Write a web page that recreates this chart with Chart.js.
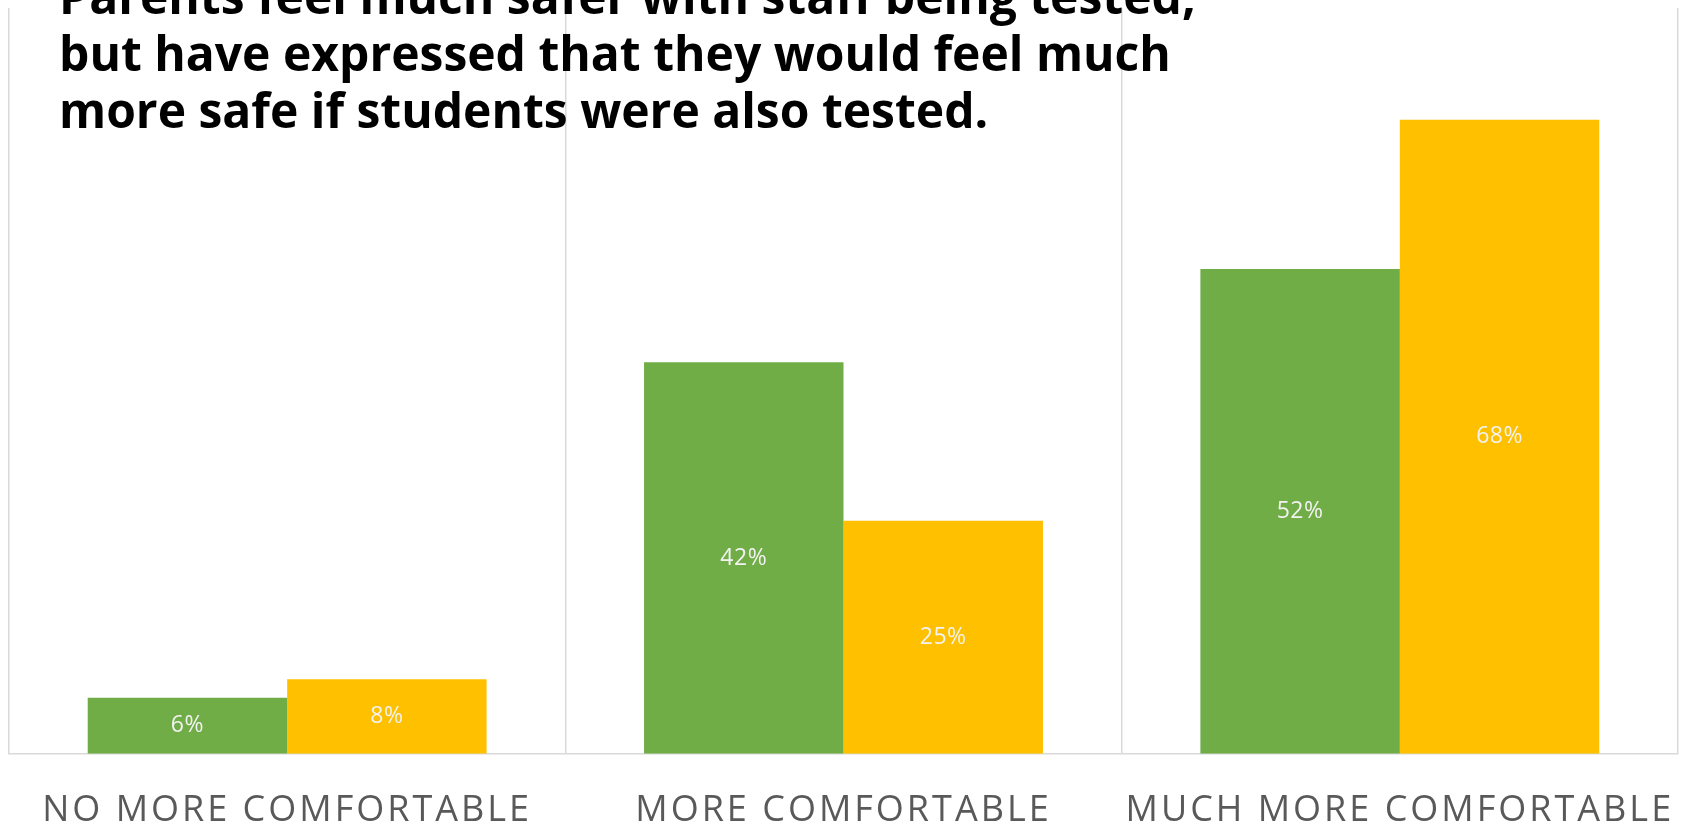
<!DOCTYPE html>
<html>
<head>
<meta charset="utf-8">
<script src="https://cdn.jsdelivr.net/npm/chart.js@4.4.1/dist/chart.umd.min.js"></script>
<style>
  body { margin: 0; background: #fff; }
  #wrap { position: relative; width: 1687px; height: 826px; overflow: hidden; }
  #title {
    position: absolute; left: 59px; top: -33px; z-index: 2;
    font-family: "Open Sans", sans-serif; font-weight: 700;
    font-size: 48px; line-height: 57px; color: #000; white-space: nowrap;
  }
</style>
</head>
<body>
<div id="wrap">
  <div id="title">Parents feel much safer with staff being tested,<br>but have expressed that they would feel much<br>more safe if students were also tested.</div>
  <canvas id="myChart"></canvas>
</div>
<script>
var categories = ["NO MORE COMFORTABLE", "MORE COMFORTABLE", "MUCH MORE COMFORTABLE"];
var staffTested = [6, 42, 52];
var studentsTested = [8, 25, 68];

// wide letter spacing for the category labels
var spacedText = {
  id: "spacedText",
  beforeDraw: function(chart) {
    chart.ctx.letterSpacing = "3px";
  }
};

// write the % values in the middle of each bar
var barLabels = {
  id: "barLabels",
  afterDatasetsDraw: function(chart) {
    var ctx = chart.ctx;
    ctx.save();
    ctx.letterSpacing = "0.5px";
    ctx.font = "23px 'Open Sans'";
    ctx.fillStyle = "#f2f2f2";
    ctx.textAlign = "center";
    ctx.textBaseline = "middle";
    chart.data.datasets.forEach(function(ds, i) {
      chart.getDatasetMeta(i).data.forEach(function(bar, j) {
        ctx.fillText(ds.data[j] + "%", bar.x, (bar.y + bar.base) / 2);
      });
    });
    ctx.restore();
  }
};

new Chart("myChart", {
  type: "bar",
  data: {
    labels: categories,
    datasets: [{
      label: "Staff tested",
      backgroundColor: "#70ad47",
      data: staffTested
    }, {
      label: "Students tested",
      backgroundColor: "#ffc000",
      data: studentsTested
    }]
  },
  options: {
    responsive: true,
    maintainAspectRatio: false,
    animation: false,
    layout: { padding: { left: 9, right: 9, top: 8, bottom: -41 } },
    plugins: {
      legend: { display: false },
      tooltip: { enabled: false }
    },
    datasets: {
      bar: { categoryPercentage: 0.717, barPercentage: 1 }
    },
    scales: {
      x: {
        offset: true,
        grid: { display: true, offset: true, color: "#d9d9d9", lineWidth: 1.5, drawTicks: false },
        border: { color: "#d9d9d9", width: 1.5 },
        ticks: {
          padding: 35,
          color: "#595959",
          font: { family: "'Open Sans'", size: 36 }
        }
      },
      y: {
        display: false,
        min: 0,
        max: 80
      }
    }
  },
  plugins: [spacedText, barLabels]
});
</script>
</body>
</html>
